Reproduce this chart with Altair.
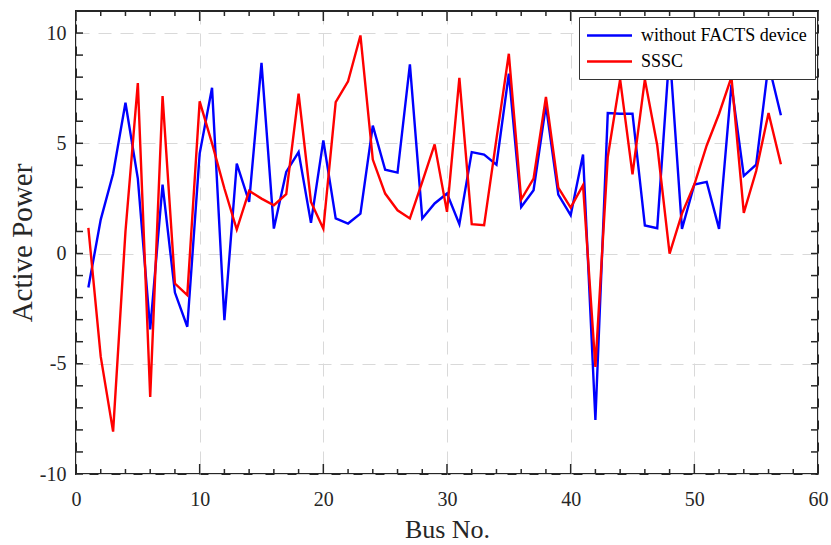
import altair as alt
import pandas as pd

# ---------------- data ----------------
bus = list(range(1, 58))
without_facts = [-1.54, 1.54, 3.62, 6.84, 3.40, -3.44, 3.13, -1.77, -3.32, 4.53,
                 7.52, -3.02, 4.08, 2.34, 8.65, 1.13, 3.70, 4.60, 1.39, 5.13,
                 1.59, 1.36, 1.81, 5.80, 3.80, 3.67, 8.58, 1.59, 2.27, 2.72,
                 1.33, 4.60, 4.49, 4.03, 8.16, 2.11, 2.87, 6.72, 2.67, 1.74,
                 4.49, -7.55, 6.37, 6.34, 6.34, 1.27, 1.15, 9.20, 1.12, 3.13,
                 3.25, 1.12, 7.66, 3.52, 4.03, 8.60, 6.27]
sssc = [1.16, -4.68, -8.08, 1.00, 7.73, -6.50, 7.14, -1.36, -1.89, 6.90,
        5.00, 2.95, 1.09, 2.84, 2.49, 2.19, 2.69, 7.25, 2.34, 1.12,
        6.87, 7.81, 9.89, 4.26, 2.72, 1.96, 1.59, 3.25, 4.95, 1.89,
        7.97, 1.33, 1.28, 5.20, 9.06, 2.45, 3.40, 7.10, 2.99, 2.08,
        3.10, -5.14, 4.38, 7.90, 3.59, 7.90, 4.91, 0.00, 1.81, 3.13,
        4.90, 6.34, 8.00, 1.84, 3.74, 6.37, 4.05]
series_names = ["without FACTS device", "SSSC"]
series_colors = ["#0000ff", "#ff0000"]

x_labels = list(range(0, 61, 10))
x_minor = [v for v in range(0, 61, 2) if v % 10 != 0]
y_labels = [-10, -5, 0, 5, 10]
y_ticks = list(range(-10, 11))

df = pd.DataFrame({
    "bus": bus + bus,
    "power": without_facts + sssc,
    "series": [series_names[0]] * len(bus) + [series_names[1]] * len(bus),
})

# ---------------- style ----------------
W, H = 742, 463
FONT = "Liberation Serif"
INK = "#262626"
x_scale = alt.Scale(domain=[0, 60], nice=False, zero=False)
y_scale = alt.Scale(domain=[-10, 11], nice=False, zero=False)

x_axis = alt.Axis(values=x_labels, title="Bus No.", grid=True, gridDash=[13, 9],
                  gridColor="#d9d9d9", gridWidth=1, ticks=False, domain=False,
                  labelFlush=False, labelFont=FONT, labelFontSize=20, labelColor=INK,
                  labelPadding=15, titleFont=FONT, titleFontSize=26,
                  titleFontWeight="normal", titleColor=INK, titlePadding=7)
y_axis = alt.Axis(values=y_labels, labelExpr="'' + datum.value", title="Active Power",
                  grid=True, gridDash=[13, 9], gridColor="#d9d9d9", gridWidth=1,
                  ticks=False, domain=False, labelFlush=False, labelFont=FONT,
                  labelFontSize=20, labelColor=INK, labelPadding=10, titleFont=FONT,
                  titleFontSize=29, titleFontWeight="normal", titleColor=INK,
                  titlePadding=2)

lines = alt.Chart(df).mark_line(strokeWidth=2.4).encode(
    x=alt.X("bus:Q", scale=x_scale, axis=x_axis),
    y=alt.Y("power:Q", scale=y_scale, axis=y_axis),
    color=alt.Color("series:N",
                    scale=alt.Scale(domain=series_names, range=series_colors),
                    legend=alt.Legend(title=None, orient="none", legendX=503, legendY=6,
                                      symbolType="M-2.5,0H2.5", symbolSize=324,
                                      symbolStrokeWidth=2.4, symbolOffset=12,
                                      labelOffset=21, labelFont=FONT, labelFontSize=18,
                                      labelColor="#000000", labelLimit=0, padding=8,
                                      rowPadding=6, fillColor="white",
                                      strokeColor="#333333", direction="vertical")),
)

xmaj = pd.DataFrame({"bus": x_labels})
xmin = pd.DataFrame({"bus": x_minor})
yt = pd.DataFrame({"power": y_ticks})
tick_style = dict(color=INK, strokeWidth=1.5)


def xticks(d, length):
    b = alt.Chart(d).mark_rule(**tick_style).encode(
        x=alt.X("bus:Q", scale=x_scale), y=alt.value(H), y2=alt.value(H - length))
    t = alt.Chart(d).mark_rule(**tick_style).encode(
        x=alt.X("bus:Q", scale=x_scale), y=alt.value(0), y2=alt.value(length))
    return [b, t]


def yticks(d, length):
    l = alt.Chart(d).mark_rule(**tick_style).encode(
        y=alt.Y("power:Q", scale=y_scale), x=alt.value(0), x2=alt.value(length))
    r = alt.Chart(d).mark_rule(**tick_style).encode(
        y=alt.Y("power:Q", scale=y_scale), x=alt.value(W), x2=alt.value(W - length))
    return [l, r]


layers = [lines] + xticks(xmaj, 10) + xticks(xmin, 5) + yticks(yt, 7)

chart = alt.layer(*layers).properties(
    width=W, height=H, autosize="none",
    padding={"left": 76, "top": 11, "right": 13, "bottom": 71},
    background="white",
).configure_view(stroke=INK, strokeWidth=2)

chart.save("out.html", embed_options={"renderer": "svg", "actions": False})
